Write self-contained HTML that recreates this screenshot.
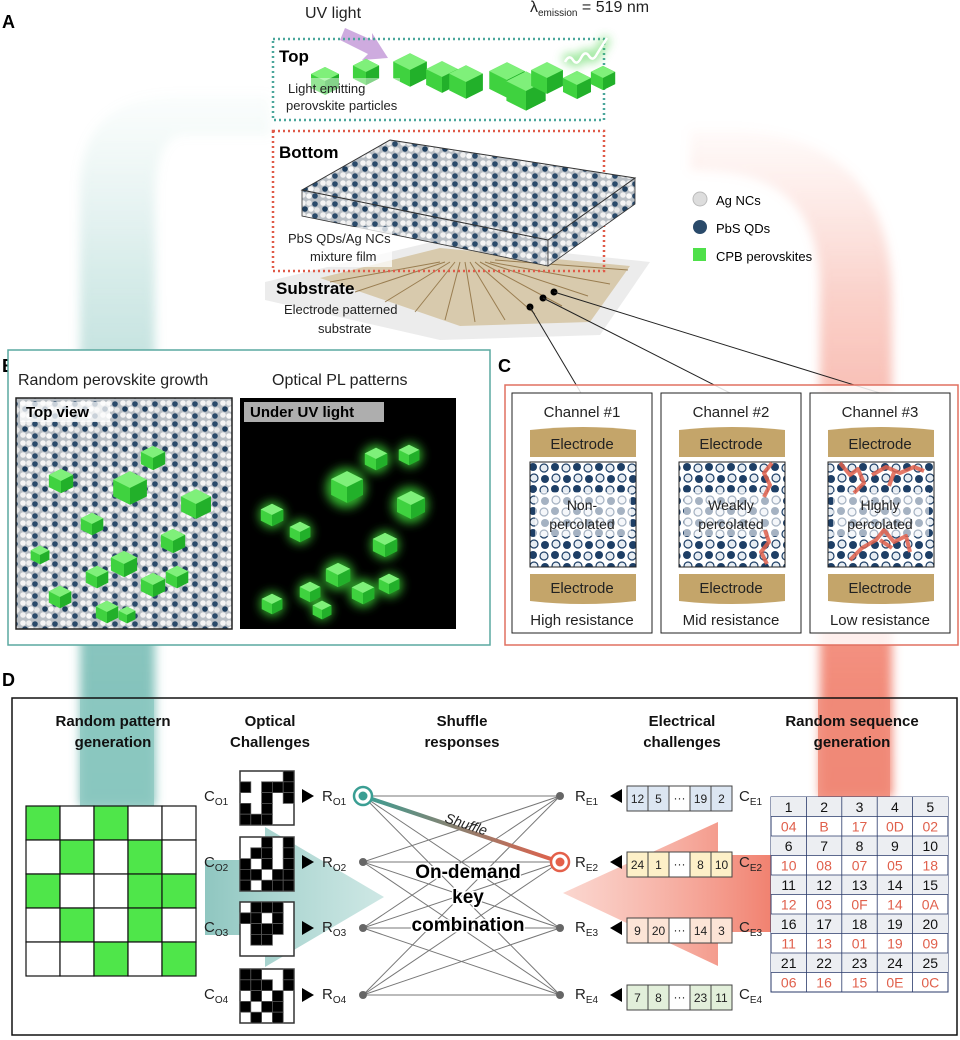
<!DOCTYPE html>
<html><head><meta charset="utf-8"><style>
html,body{margin:0;padding:0;background:#fff}
svg{display:block;font-family:"Liberation Sans",Arial,sans-serif}
</style></head><body>
<svg width="960" height="1040" viewBox="0 0 960 1040" xmlns="http://www.w3.org/2000/svg">
<defs>
<linearGradient id="tealV" x1="0" y1="0" x2="0" y2="1"><stop offset="0" stop-color="#a9d6d1" stop-opacity="0.05"/><stop offset="0.25" stop-color="#8cc8c1" stop-opacity="0.35"/><stop offset="0.7" stop-color="#6fb8b0" stop-opacity="0.8"/><stop offset="1" stop-color="#6fb8b0" stop-opacity="0.9"/></linearGradient>
<linearGradient id="redV" x1="0" y1="0" x2="0" y2="1"><stop offset="0" stop-color="#f6a090" stop-opacity="0.05"/><stop offset="0.25" stop-color="#f38c7a" stop-opacity="0.4"/><stop offset="0.7" stop-color="#f07a66" stop-opacity="0.8"/><stop offset="1" stop-color="#f07a66" stop-opacity="0.95"/></linearGradient>
<linearGradient id="tealH" x1="0" y1="0" x2="1" y2="0"><stop offset="0" stop-color="#6db5ad" stop-opacity="0.9"/><stop offset="1" stop-color="#8cc8c1" stop-opacity="0.5"/></linearGradient>
<linearGradient id="redH" x1="1" y1="0" x2="0" y2="0"><stop offset="0" stop-color="#ee6a55" stop-opacity="0.95"/><stop offset="1" stop-color="#f6a595" stop-opacity="0.5"/></linearGradient>
<linearGradient id="shuf" x1="0" y1="0" x2="1" y2="0"><stop offset="0" stop-color="#3a9e93"/><stop offset="1" stop-color="#e4604a"/></linearGradient>
<pattern id="film" width="14" height="14" patternUnits="userSpaceOnUse">
<rect width="14" height="14" fill="#c8ccd0"/>
<circle cx="3.5" cy="3.5" r="3.2" fill="#f2f2f2"/><circle cx="10.5" cy="3.5" r="3.2" fill="#1f3f5e"/>
<circle cx="3.5" cy="10.5" r="3.2" fill="#e8e8e8"/><circle cx="10.5" cy="10.5" r="3.2" fill="#fafafa"/>
</pattern>
<pattern id="film2" width="20" height="20" patternUnits="userSpaceOnUse">
<rect width="20" height="20" fill="#b8bec4"/>
<circle cx="3" cy="3" r="2.8" fill="#f4f4f4"/><circle cx="9" cy="3" r="2.8" fill="#eee"/><circle cx="15" cy="4" r="2.8" fill="#2a4a6a"/>
<circle cx="5" cy="9" r="2.8" fill="#1f3f5e"/><circle cx="11" cy="9" r="2.8" fill="#f8f8f8"/><circle cx="17" cy="10" r="2.8" fill="#e6e6e6"/>
<circle cx="3" cy="15" r="2.8" fill="#f0f0f0"/><circle cx="9" cy="16" r="2.8" fill="#fafafa"/><circle cx="15" cy="16" r="2.8" fill="#2a4a6a"/>
</pattern>
<filter id="glow" x="-50%" y="-50%" width="200%" height="200%"><feGaussianBlur stdDeviation="5"/></filter>
<filter id="blur8" x="-20%" y="-20%" width="140%" height="140%"><feGaussianBlur stdDeviation="5"/></filter>
<symbol id="cube" viewBox="0 0 30 30"><polygon points="15,1 29,8 29,22 15,29 1,22 1,8" fill="#3fd23f"/><polygon points="15,1 29,8 15,15 1,8" fill="#7ff07a"/><polygon points="15,15 29,8 29,22 15,29" fill="#22b02a"/></symbol>
</defs>

<!-- big background arrows -->
<path d="M80,806 L80,190 Q80,95 180,95 L270,95 L270,135 L185,135 Q155,135 155,200 L155,806 Z" fill="url(#tealV)" filter="url(#blur8)"/>
<path d="M820,797 L820,290 Q820,180 720,172 L690,170 L690,130 L740,130 Q892,140 892,300 L892,797 Z" fill="url(#redV)" filter="url(#blur8)"/>

<!-- Panel labels -->
<text x="2" y="28" font-size="18" font-weight="bold">A</text>
<text x="2" y="372" font-size="18" font-weight="bold">B</text>
<text x="498" y="372" font-size="18" font-weight="bold">C</text>
<text x="2" y="686" font-size="18" font-weight="bold">D</text>

<!-- Panel A -->
<text x="305" y="18" font-size="16" fill="#222">UV light</text>
<path d="M345,28 L372,40 L372,33 L388,58 L362,60 L368,54 L340,40 Z" fill="#c9a2dc" opacity="0.9"/>
<text x="530" y="12" font-size="16" fill="#222">λ<tspan font-size="10" dy="4">emission</tspan><tspan dy="-4"> = 519 nm</tspan></text>
<!-- substrate -->
<polygon points="265,282 440,240 650,262 600,335 440,340 265,300" fill="#ececec"/>
<polygon points="320,278 440,248 630,266 590,322 460,326" fill="#c9ae7a" opacity="0.55"/>
<g stroke="#8a6a3a" stroke-width="1" opacity="0.8">
<line x1="440" y1="262" x2="330" y2="282"/><line x1="445" y1="262" x2="355" y2="292"/><line x1="450" y1="262" x2="385" y2="302"/><line x1="455" y1="262" x2="415" y2="312"/><line x1="460" y1="262" x2="445" y2="320"/><line x1="465" y1="262" x2="475" y2="322"/><line x1="470" y1="262" x2="505" y2="320"/><line x1="475" y1="262" x2="535" y2="314"/><line x1="480" y1="262" x2="562" y2="306"/><line x1="485" y1="262" x2="588" y2="296"/><line x1="490" y1="262" x2="610" y2="284"/><line x1="495" y1="260" x2="628" y2="270"/>
</g>
<rect x="273" y="39" width="331" height="81" fill="none" stroke="#4aa69b" stroke-width="2.5" stroke-dasharray="2,3"/>
<text x="279" y="62" font-size="17" font-weight="bold">Top</text>
<g>
<use href="#cube" x="310" y="66" width="30" height="30"/>
<use href="#cube" x="352" y="58" width="28" height="28"/>
<use href="#cube" x="392" y="52" width="36" height="36"/>
<use href="#cube" x="425" y="60" width="34" height="34"/>
<use href="#cube" x="448" y="62" width="36" height="40"/>
<use href="#cube" x="488" y="58" width="38" height="44"/>
<use href="#cube" x="505" y="70" width="42" height="42"/>
<use href="#cube" x="530" y="60" width="34" height="36"/>
<use href="#cube" x="562" y="68" width="30" height="34"/>
<use href="#cube" x="594" y="58" width="0" height="0"/>
<use href="#cube" x="590" y="62" width="26" height="32"/>
</g>
<rect x="284" y="78" width="116" height="38" fill="#fff" opacity="0.45"/>
<text x="288" y="93" font-size="13" fill="#222">Light emitting</text>
<text x="286" y="110" font-size="13" fill="#222">perovskite particles</text>
<path d="M565,62 q4,-8 8,-2 q4,6 8,-2 q4,-8 8,-2 q4,6 8,-2 l10,-16" fill="none" stroke="#3fd23f" stroke-width="8" opacity="0.6" filter="url(#glow)"/>
<path d="M565,62 q4,-8 8,-2 q4,6 8,-2 q4,-8 8,-2 q4,6 8,-2 l10,-16" fill="none" stroke="#fff" stroke-width="2.5"/>
<rect x="273" y="131" width="331" height="140" fill="none" stroke="#e05a48" stroke-width="2.5" stroke-dasharray="2,3"/>
<text x="279" y="158" font-size="17" font-weight="bold">Bottom</text>
<!-- film block -->
<polygon points="302,190 548,240 548,266 302,216" fill="url(#film2)" stroke="#333" stroke-width="0.8"/>
<polygon points="548,240 635,178 635,204 548,266" fill="url(#film2)" stroke="#333" stroke-width="0.8"/>
<polygon points="390,140 635,178 548,240 302,190" fill="url(#film2)" stroke="#333" stroke-width="1"/>
<rect x="280" y="227" width="112" height="40" fill="#fff" opacity="0.75"/>
<text x="288" y="243" font-size="13" fill="#222">PbS QDs/Ag NCs</text>
<text x="310" y="261" font-size="13" fill="#222">mixture film</text>
<text x="276" y="294" font-size="17" font-weight="bold">Substrate</text>
<text x="284" y="314" font-size="13" fill="#222">Electrode patterned</text>
<text x="318" y="333" font-size="13" fill="#222">substrate</text>
<circle cx="700" cy="199" r="7" fill="#ddd" stroke="#bbb"/><text x="716" y="205" font-size="13">Ag NCs</text>
<circle cx="700" cy="227" r="7" fill="#2a4a6a"/><text x="716" y="233" font-size="13">PbS QDs</text>
<rect x="693" y="248" width="13" height="13" fill="#4fe04a"/><text x="716" y="261" font-size="13">CPB perovskites</text>
<g fill="#000"><circle cx="554" cy="292" r="3.5"/><circle cx="543" cy="298" r="3.5"/><circle cx="530" cy="307" r="3.5"/></g>
<g stroke="#222" stroke-width="1"><line x1="530" y1="307" x2="581" y2="393"/><line x1="543" y1="298" x2="730" y2="393"/><line x1="554" y1="292" x2="880" y2="393"/></g>

<!-- Panel B -->
<rect x="8" y="350" width="482" height="295" fill="#fff" stroke="#5aa9a0" stroke-width="1.5"/>
<text x="18" y="385" font-size="16" fill="#222">Random perovskite growth</text>
<text x="272" y="385" font-size="16" fill="#222">Optical PL patterns</text>
<rect x="16" y="398" width="216" height="231" fill="url(#film2)" stroke="#222" stroke-width="1.5"/>
<rect x="20" y="402" width="90" height="20" fill="#fff" opacity="0.75"/>
<text x="26" y="417" font-size="15" font-weight="bold">Top view</text>
<g>
<use href="#cube" x="140" y="445" width="26" height="26"/><use href="#cube" x="112" y="470" width="36" height="36"/><use href="#cube" x="180" y="488" width="32" height="32"/>
<use href="#cube" x="48" y="468" width="26" height="26"/><use href="#cube" x="80" y="512" width="24" height="24"/><use href="#cube" x="160" y="528" width="26" height="26"/>
<use href="#cube" x="110" y="550" width="28" height="28"/><use href="#cube" x="85" y="565" width="24" height="24"/><use href="#cube" x="140" y="572" width="26" height="26"/>
<use href="#cube" x="48" y="585" width="24" height="24"/><use href="#cube" x="165" y="565" width="24" height="24"/><use href="#cube" x="95" y="600" width="24" height="24"/><use href="#cube" x="118" y="606" width="18" height="18"/><use href="#cube" x="30" y="545" width="20" height="20"/>
</g>
<rect x="240" y="398" width="216" height="231" fill="#000"/>
<rect x="244" y="402" width="140" height="20" fill="#ccc" opacity="0.85"/>
<text x="250" y="417" font-size="15" font-weight="bold">Under UV light</text>
<g fill="#3fe03a" filter="url(#glow)" opacity="0.8">
<circle cx="376" cy="459" r="14"/><circle cx="346" cy="488" r="20"/><circle cx="410" cy="505" r="18"/><circle cx="272" cy="515" r="13"/><circle cx="300" cy="532" r="12"/><circle cx="385" cy="545" r="14"/><circle cx="338" cy="575" r="15"/><circle cx="310" cy="592" r="12"/><circle cx="363" cy="593" r="14"/><circle cx="272" cy="604" r="12"/><circle cx="390" cy="585" r="12"/><circle cx="322" cy="610" r="10"/><circle cx="410" cy="455" r="12"/>
</g>
<g>
<use href="#cube" x="364" y="447" width="24" height="24"/><use href="#cube" x="330" y="470" width="34" height="34"/><use href="#cube" x="396" y="490" width="30" height="30"/>
<use href="#cube" x="260" y="503" width="24" height="24"/><use href="#cube" x="289" y="521" width="22" height="22"/><use href="#cube" x="372" y="532" width="26" height="26"/>
<use href="#cube" x="325" y="562" width="26" height="26"/><use href="#cube" x="299" y="581" width="22" height="22"/><use href="#cube" x="351" y="581" width="24" height="24"/>
<use href="#cube" x="261" y="593" width="22" height="22"/><use href="#cube" x="378" y="573" width="22" height="22"/><use href="#cube" x="312" y="600" width="20" height="20"/><use href="#cube" x="398" y="444" width="22" height="22"/>
</g>

<!-- Panel C -->
<rect x="505" y="385" width="453" height="260" fill="#fff" fill-opacity="0.85" stroke="#e07060" stroke-width="1.5"/>
<g font-size="15" text-anchor="middle" fill="#222">
<rect x="512" y="393" width="140" height="240" fill="#fff" stroke="#222"/>
<rect x="661" y="393" width="140" height="240" fill="#fff" stroke="#222"/>
<rect x="810" y="393" width="140" height="240" fill="#fff" stroke="#222"/>
<text x="582" y="417">Channel #1</text><text x="731" y="417">Channel #2</text><text x="880" y="417">Channel #3</text>
<path d="M530,430 q53,-6 106,0 v27 h-106 z" fill="#c4a56a"/><path d="M679,430 q53,-6 106,0 v27 h-106 z" fill="#c4a56a"/><path d="M828,430 q53,-6 106,0 v27 h-106 z" fill="#c4a56a"/>
<text x="582" y="449">Electrode</text><text x="731" y="449">Electrode</text><text x="880" y="449">Electrode</text>
<path d="M530,574 h106 v27 q-53,6 -106,0 z" fill="#c4a56a"/><path d="M679,574 h106 v27 q-53,6 -106,0 z" fill="#c4a56a"/><path d="M828,574 h106 v27 q-53,6 -106,0 z" fill="#c4a56a"/>
<text x="582" y="593">Electrode</text><text x="731" y="593">Electrode</text><text x="880" y="593">Electrode</text>
<text x="582" y="625">High resistance</text><text x="731" y="625">Mid resistance</text><text x="880" y="625">Low resistance</text>
</g>
<defs><pattern id="perc" width="22" height="22" patternUnits="userSpaceOnUse">
<rect width="22" height="22" fill="#fff"/>
<circle cx="5" cy="5" r="4" fill="#1e3f66"/><circle cx="16" cy="6" r="4" fill="#e6ecf2" stroke="#1e3f66" stroke-width="1.2"/>
<circle cx="6" cy="16" r="4" fill="#e6ecf2" stroke="#1e3f66" stroke-width="1.2"/><circle cx="17" cy="17" r="4" fill="#1e3f66"/>
</pattern></defs>
<rect x="530" y="462" width="106" height="105" fill="url(#perc)" stroke="#222"/>
<rect x="679" y="462" width="106" height="105" fill="url(#perc)" stroke="#222"/>
<rect x="828" y="462" width="106" height="105" fill="url(#perc)" stroke="#222"/>
<rect x="535" y="492" width="96" height="44" fill="#fff" opacity="0.6"/><rect x="684" y="492" width="96" height="44" fill="#fff" opacity="0.6"/><rect x="833" y="492" width="96" height="44" fill="#fff" opacity="0.6"/>
<g fill="none" stroke="#e0604c" stroke-width="4" stroke-linejoin="round" opacity="0.85">
<path d="M772,463 l-8,10 l6,12 l-6,12 M765,530 l4,12 l-8,10 l6,12"/>
<path d="M840,463 l10,12 l8,-6 l6,14 l-10,10 M872,475 l14,-8 l14,6 l14,-6 l10,4 M895,470 l-6,16 M850,560 l12,-12 l14,-8 l8,-10 l10,12 l12,-6 l4,16 M880,540 l12,8"/>
</g>
<g font-size="14" text-anchor="middle" fill="#222">
<text x="582" y="510">Non-</text><text x="582" y="529">percolated</text>
<text x="731" y="510">Weakly</text><text x="731" y="529">percolated</text>
<text x="880" y="510">Highly</text><text x="880" y="529">percolated</text>
</g>

<!-- Panel D -->
<rect x="12" y="698" width="945" height="337" fill="none" stroke="#111" stroke-width="1.5"/>
<rect x="80" y="699" width="74" height="108" fill="#8cc8c1" opacity="0.8"/>
<rect x="818" y="699" width="72" height="100" fill="#f08a78" opacity="0.85"/>
<path d="M205,860 L265,860 L265,827 L384,897 L265,967 L265,935 L205,935 Z" fill="url(#tealH)" opacity="0.85"/>
<path d="M775,855 L718,855 L718,822 L563,893 L718,966 L718,932 L775,932 Z" fill="url(#redH)" opacity="0.9"/>
<g font-size="15" font-weight="bold" text-anchor="middle" fill="#111">
<text x="113" y="726">Random pattern</text><text x="113" y="747">generation</text>
<text x="270" y="726">Optical</text><text x="270" y="747">Challenges</text>
<text x="462" y="726">Shuffle</text><text x="462" y="747">responses</text>
<text x="682" y="726">Electrical</text><text x="682" y="747">challenges</text>
<text x="852" y="726">Random sequence</text><text x="852" y="747">generation</text>
</g>
<g stroke="#111" stroke-width="1.2">
<rect x="26" y="806" width="34" height="34" fill="#4fe64a"/><rect x="60" y="806" width="34" height="34" fill="#fff"/><rect x="94" y="806" width="34" height="34" fill="#4fe64a"/><rect x="128" y="806" width="34" height="34" fill="#fff"/><rect x="162" y="806" width="34" height="34" fill="#fff"/>
<rect x="26" y="840" width="34" height="34" fill="#fff"/><rect x="60" y="840" width="34" height="34" fill="#4fe64a"/><rect x="94" y="840" width="34" height="34" fill="#fff"/><rect x="128" y="840" width="34" height="34" fill="#4fe64a"/><rect x="162" y="840" width="34" height="34" fill="#fff"/>
<rect x="26" y="874" width="34" height="34" fill="#4fe64a"/><rect x="60" y="874" width="34" height="34" fill="#fff"/><rect x="94" y="874" width="34" height="34" fill="#fff"/><rect x="128" y="874" width="34" height="34" fill="#4fe64a"/><rect x="162" y="874" width="34" height="34" fill="#4fe64a"/>
<rect x="26" y="908" width="34" height="34" fill="#fff"/><rect x="60" y="908" width="34" height="34" fill="#4fe64a"/><rect x="94" y="908" width="34" height="34" fill="#fff"/><rect x="128" y="908" width="34" height="34" fill="#4fe64a"/><rect x="162" y="908" width="34" height="34" fill="#fff"/>
<rect x="26" y="942" width="34" height="34" fill="#fff"/><rect x="60" y="942" width="34" height="34" fill="#fff"/><rect x="94" y="942" width="34" height="34" fill="#4fe64a"/><rect x="128" y="942" width="34" height="34" fill="#fff"/><rect x="162" y="942" width="34" height="34" fill="#4fe64a"/>
</g>
<g stroke="#555" stroke-width="0.8">
<g transform="translate(240,771)">
<rect width="54" height="54" fill="#fff" stroke="#333" stroke-width="1.5"/>
<rect x="43.2" y="0" width="10.8" height="10.8" fill="#000"/>
<rect x="0" y="10.8" width="10.8" height="10.8" fill="#000"/><rect x="21.6" y="10.8" width="10.8" height="10.8" fill="#000"/><rect x="32.4" y="10.8" width="10.8" height="10.8" fill="#000"/><rect x="43.2" y="10.8" width="10.8" height="10.8" fill="#000"/>
<rect x="21.6" y="21.6" width="10.8" height="10.8" fill="#000"/><rect x="43.2" y="21.6" width="10.8" height="10.8" fill="#000"/>
<rect x="0" y="32.4" width="10.8" height="10.8" fill="#000"/><rect x="21.6" y="32.4" width="10.8" height="10.8" fill="#000"/>
<rect x="0" y="43.2" width="10.8" height="10.8" fill="#000"/><rect x="10.8" y="43.2" width="10.8" height="10.8" fill="#000"/><rect x="21.6" y="43.2" width="10.8" height="10.8" fill="#000"/>
</g>
<g transform="translate(240,837)">
<rect width="54" height="54" fill="#fff" stroke="#333" stroke-width="1.5"/>
<rect x="21.6" y="0" width="10.8" height="10.8" fill="#000"/><rect x="43.2" y="0" width="10.8" height="10.8" fill="#000"/>
<rect x="10.8" y="10.8" width="10.8" height="10.8" fill="#000"/><rect x="21.6" y="10.8" width="10.8" height="10.8" fill="#000"/><rect x="43.2" y="10.8" width="10.8" height="10.8" fill="#000"/>
<rect x="0" y="21.6" width="10.8" height="10.8" fill="#000"/><rect x="21.6" y="21.6" width="10.8" height="10.8" fill="#000"/><rect x="43.2" y="21.6" width="10.8" height="10.8" fill="#000"/>
<rect x="0" y="32.4" width="10.8" height="10.8" fill="#000"/><rect x="10.8" y="32.4" width="10.8" height="10.8" fill="#000"/><rect x="32.4" y="32.4" width="10.8" height="10.8" fill="#000"/><rect x="43.2" y="32.4" width="10.8" height="10.8" fill="#000"/>
<rect x="0" y="43.2" width="10.8" height="10.8" fill="#000"/><rect x="21.6" y="43.2" width="10.8" height="10.8" fill="#000"/><rect x="32.4" y="43.2" width="10.8" height="10.8" fill="#000"/><rect x="43.2" y="43.2" width="10.8" height="10.8" fill="#000"/>
</g>
<g transform="translate(240,902)">
<rect width="54" height="54" fill="#fff" stroke="#333" stroke-width="1.5"/>
<rect x="10.8" y="0" width="10.8" height="10.8" fill="#000"/><rect x="21.6" y="0" width="10.8" height="10.8" fill="#000"/><rect x="32.4" y="0" width="10.8" height="10.8" fill="#000"/>
<rect x="0" y="10.8" width="10.8" height="10.8" fill="#000"/><rect x="10.8" y="10.8" width="10.8" height="10.8" fill="#000"/><rect x="32.4" y="10.8" width="10.8" height="10.8" fill="#000"/>
<rect x="10.8" y="21.6" width="10.8" height="10.8" fill="#000"/><rect x="21.6" y="21.6" width="10.8" height="10.8" fill="#000"/><rect x="32.4" y="21.6" width="10.8" height="10.8" fill="#000"/>
<rect x="10.8" y="32.4" width="10.8" height="10.8" fill="#000"/><rect x="21.6" y="32.4" width="10.8" height="10.8" fill="#000"/>
</g>
<g transform="translate(240,969)">
<rect width="54" height="54" fill="#fff" stroke="#333" stroke-width="1.5"/>
<rect x="0" y="0" width="10.8" height="10.8" fill="#000"/><rect x="10.8" y="0" width="10.8" height="10.8" fill="#000"/><rect x="43.2" y="0" width="10.8" height="10.8" fill="#000"/>
<rect x="0" y="10.8" width="10.8" height="10.8" fill="#000"/><rect x="10.8" y="10.8" width="10.8" height="10.8" fill="#000"/><rect x="21.6" y="10.8" width="10.8" height="10.8" fill="#000"/><rect x="43.2" y="10.8" width="10.8" height="10.8" fill="#000"/>
<rect x="10.8" y="21.6" width="10.8" height="10.8" fill="#000"/><rect x="32.4" y="21.6" width="10.8" height="10.8" fill="#000"/>
<rect x="0" y="32.4" width="10.8" height="10.8" fill="#000"/><rect x="21.6" y="32.4" width="10.8" height="10.8" fill="#000"/><rect x="32.4" y="32.4" width="10.8" height="10.8" fill="#000"/>
<rect x="10.8" y="43.2" width="10.8" height="10.8" fill="#000"/><rect x="32.4" y="43.2" width="10.8" height="10.8" fill="#000"/>
</g>
</g>
<g font-size="15" fill="#222">
<text x="204" y="801">C<tspan font-size="10" dy="4">O1</tspan></text>
<text x="204" y="867">C<tspan font-size="10" dy="4">O2</tspan></text>
<text x="204" y="932">C<tspan font-size="10" dy="4">O3</tspan></text>
<text x="204" y="999">C<tspan font-size="10" dy="4">O4</tspan></text>
<text x="322" y="801">R<tspan font-size="10" dy="4">O1</tspan></text>
<text x="322" y="867">R<tspan font-size="10" dy="4">O2</tspan></text>
<text x="322" y="932">R<tspan font-size="10" dy="4">O3</tspan></text>
<text x="322" y="999">R<tspan font-size="10" dy="4">O4</tspan></text>
<text x="575" y="801">R<tspan font-size="10" dy="4">E1</tspan></text>
<text x="575" y="867">R<tspan font-size="10" dy="4">E2</tspan></text>
<text x="575" y="932">R<tspan font-size="10" dy="4">E3</tspan></text>
<text x="575" y="999">R<tspan font-size="10" dy="4">E4</tspan></text>
<text x="739" y="801">C<tspan font-size="10" dy="4">E1</tspan></text>
<text x="739" y="867">C<tspan font-size="10" dy="4">E2</tspan></text>
<text x="739" y="932">C<tspan font-size="10" dy="4">E3</tspan></text>
<text x="739" y="999">C<tspan font-size="10" dy="4">E4</tspan></text>
</g>
<g fill="#000">
<polygon points="302,789 314,796 302,803"/><polygon points="302,855 314,862 302,869"/><polygon points="302,921 314,928 302,935"/><polygon points="302,988 314,995 302,1002"/>
<polygon points="622,789 610,796 622,803"/><polygon points="622,855 610,862 622,869"/><polygon points="622,921 610,928 622,935"/><polygon points="622,988 610,995 622,1002"/>
</g>
<g stroke="#777" stroke-width="1">
<line x1="363" y1="796" x2="560" y2="796"/><line x1="363" y1="796" x2="560" y2="928"/><line x1="363" y1="796" x2="560" y2="995"/>
<line x1="363" y1="862" x2="560" y2="796"/><line x1="363" y1="862" x2="560" y2="862"/><line x1="363" y1="862" x2="560" y2="928"/><line x1="363" y1="862" x2="560" y2="995"/>
<line x1="363" y1="928" x2="560" y2="796"/><line x1="363" y1="928" x2="560" y2="862"/><line x1="363" y1="928" x2="560" y2="928"/><line x1="363" y1="928" x2="560" y2="995"/>
<line x1="363" y1="995" x2="560" y2="796"/><line x1="363" y1="995" x2="560" y2="862"/><line x1="363" y1="995" x2="560" y2="928"/><line x1="363" y1="995" x2="560" y2="995"/>
</g>
<line x1="363" y1="796" x2="560" y2="862" stroke="url(#shuf)" stroke-width="4"/>
<text x="444" y="822" font-size="14" font-style="italic" fill="#222" transform="rotate(18 444 822)">Shuffle</text>
<g fill="#666"><circle cx="363" cy="862" r="4"/><circle cx="363" cy="928" r="4"/><circle cx="363" cy="995" r="4"/><circle cx="560" cy="796" r="4"/><circle cx="560" cy="928" r="4"/><circle cx="560" cy="995" r="4"/></g>
<circle cx="363" cy="796" r="9" fill="#fff" stroke="#3a9e93" stroke-width="2.5"/><circle cx="363" cy="796" r="4.5" fill="#3a9e93"/>
<circle cx="560" cy="862" r="9" fill="#fff" stroke="#e4604a" stroke-width="2.5"/><circle cx="560" cy="862" r="4.5" fill="#e4604a"/>
<g font-size="19" font-weight="bold" text-anchor="middle" fill="#000" stroke="#fff" stroke-width="3" paint-order="stroke">
<text x="468" y="878">On-demand</text><text x="468" y="903">key</text><text x="468" y="931">combination</text>
</g>
<g font-size="12" text-anchor="middle" fill="#222">
<g transform="translate(627,786)"><rect width="105" height="25" fill="#dce6f2" stroke="#444"/><rect x="42" width="21" height="25" fill="#fff" stroke="#444"/><line x1="21" y1="0" x2="21" y2="25" stroke="#444"/><line x1="84" y1="0" x2="84" y2="25" stroke="#444"/><text x="10.5" y="17">12</text><text x="31.5" y="17">5</text><text x="52.5" y="16">···</text><text x="73.5" y="17">19</text><text x="94.5" y="17">2</text></g>
<g transform="translate(627,852)"><rect width="105" height="25" fill="#fdf0c8" stroke="#444"/><rect x="42" width="21" height="25" fill="#fff" stroke="#444"/><line x1="21" y1="0" x2="21" y2="25" stroke="#444"/><line x1="84" y1="0" x2="84" y2="25" stroke="#444"/><text x="10.5" y="17">24</text><text x="31.5" y="17">1</text><text x="52.5" y="16">···</text><text x="73.5" y="17">8</text><text x="94.5" y="17">10</text></g>
<g transform="translate(627,918)"><rect width="105" height="25" fill="#fce4d6" stroke="#444"/><rect x="42" width="21" height="25" fill="#fff" stroke="#444"/><line x1="21" y1="0" x2="21" y2="25" stroke="#444"/><line x1="84" y1="0" x2="84" y2="25" stroke="#444"/><text x="10.5" y="17">9</text><text x="31.5" y="17">20</text><text x="52.5" y="16">···</text><text x="73.5" y="17">14</text><text x="94.5" y="17">3</text></g>
<g transform="translate(627,985)"><rect width="105" height="25" fill="#e2efda" stroke="#444"/><rect x="42" width="21" height="25" fill="#fff" stroke="#444"/><line x1="21" y1="0" x2="21" y2="25" stroke="#444"/><line x1="84" y1="0" x2="84" y2="25" stroke="#444"/><text x="10.5" y="17">7</text><text x="31.5" y="17">8</text><text x="52.5" y="16">···</text><text x="73.5" y="17">23</text><text x="94.5" y="17">11</text></g>
</g>
<g transform="translate(771,797)" font-size="14" text-anchor="middle">
<rect width="177" height="195" fill="#fff" stroke="#2a3a6a"/>
<g fill="#eceef2"><rect y="0" width="177" height="19.5"/><rect y="39" width="177" height="19.5"/><rect y="78" width="177" height="19.5"/><rect y="117" width="177" height="19.5"/><rect y="156" width="177" height="19.5"/></g>
<g stroke="#2a3a6a" stroke-width="0.8">
<line x1="35.4" y1="0" x2="35.4" y2="195"/><line x1="70.8" y1="0" x2="70.8" y2="195"/><line x1="106.2" y1="0" x2="106.2" y2="195"/><line x1="141.6" y1="0" x2="141.6" y2="195"/>
<line x1="0" y1="19.5" x2="177" y2="19.5"/><line x1="0" y1="39" x2="177" y2="39"/><line x1="0" y1="58.5" x2="177" y2="58.5"/><line x1="0" y1="78" x2="177" y2="78"/><line x1="0" y1="97.5" x2="177" y2="97.5"/><line x1="0" y1="117" x2="177" y2="117"/><line x1="0" y1="136.5" x2="177" y2="136.5"/><line x1="0" y1="156" x2="177" y2="156"/><line x1="0" y1="175.5" x2="177" y2="175.5"/>
</g>
<g fill="#111">
<text x="17.7" y="15">1</text><text x="53.1" y="15">2</text><text x="88.5" y="15">3</text><text x="123.9" y="15">4</text><text x="159.3" y="15">5</text>
<text x="17.7" y="54">6</text><text x="53.1" y="54">7</text><text x="88.5" y="54">8</text><text x="123.9" y="54">9</text><text x="159.3" y="54">10</text>
<text x="17.7" y="93">11</text><text x="53.1" y="93">12</text><text x="88.5" y="93">13</text><text x="123.9" y="93">14</text><text x="159.3" y="93">15</text>
<text x="17.7" y="132">16</text><text x="53.1" y="132">17</text><text x="88.5" y="132">18</text><text x="123.9" y="132">19</text><text x="159.3" y="132">20</text>
<text x="17.7" y="171">21</text><text x="53.1" y="171">22</text><text x="88.5" y="171">23</text><text x="123.9" y="171">24</text><text x="159.3" y="171">25</text>
</g>
<g fill="#e0604c">
<text x="17.7" y="34.5">04</text><text x="53.1" y="34.5">B</text><text x="88.5" y="34.5">17</text><text x="123.9" y="34.5">0D</text><text x="159.3" y="34.5">02</text>
<text x="17.7" y="73.5">10</text><text x="53.1" y="73.5">08</text><text x="88.5" y="73.5">07</text><text x="123.9" y="73.5">05</text><text x="159.3" y="73.5">18</text>
<text x="17.7" y="112.5">12</text><text x="53.1" y="112.5">03</text><text x="88.5" y="112.5">0F</text><text x="123.9" y="112.5">14</text><text x="159.3" y="112.5">0A</text>
<text x="17.7" y="151.5">11</text><text x="53.1" y="151.5">13</text><text x="88.5" y="151.5">01</text><text x="123.9" y="151.5">19</text><text x="159.3" y="151.5">09</text>
<text x="17.7" y="190.5">06</text><text x="53.1" y="190.5">16</text><text x="88.5" y="190.5">15</text><text x="123.9" y="190.5">0E</text><text x="159.3" y="190.5">0C</text>
</g>
</g>
</svg>
</body></html>
